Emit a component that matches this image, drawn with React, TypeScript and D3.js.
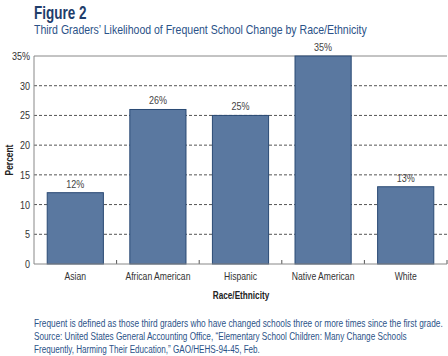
import React, { useLayoutEffect, useRef, useState } from "react";
import * as d3 from "d3";

const categories = ["Asian", "African American", "Hispanic", "Native American", "White"];
const values = [12, 26, 25, 35, 13];
const yTicks = [0, 5, 10, 15, 20, 25, 30, 35];
const footnotes = [
  "Frequent is defined as those third graders who have changed schools three or more times since the first grade.",
  "Source: United States General Accounting Office, \u201cElementary School Children: Many Change Schools",
  "Frequently, Harming Their Education,\u201d GAO/HEHS-94-45, Feb.",
];
const footnoteWidths = [409, 373, 226];

const W = 448;
const H = 356;
const FONT = "'Liberation Sans', Arial, Helvetica, sans-serif";
const SX = 0.82;

function T(props: { x: number; y: number; sx?: number; rotate?: number; children: React.ReactNode; [k: string]: any }) {
  const { x, y, sx = SX, rotate, children, ...rest } = props;
  const tr = `translate(${x},${y})${rotate ? ` rotate(${rotate})` : ""} scale(${sx},1)`;
  return (
    <text transform={tr} {...rest}>
      {children}
    </text>
  );
}

function FitText(props: { x: number; y: number; width: number; children: string; [k: string]: any }) {
  const { x, y, width, children, ...rest } = props;
  const ref = useRef<SVGTextElement>(null);
  const [sx, setSx] = useState(0.75);
  useLayoutEffect(() => {
    if (ref.current) {
      const w = ref.current.getComputedTextLength();
      if (w > 0) setSx(width / w);
    }
  }, [children, width]);
  return (
    <text ref={ref} transform={`translate(${x},${y}) scale(${sx},1)`} {...rest}>
      {children}
    </text>
  );
}

export default function App() {
  const left = 34;
  const right = 447;
  const top = 56;
  const bottom = 264;
  const x = d3.scaleBand<string>().domain(categories).range([left, right]).paddingInner(0.32).paddingOuter(0.16);
  const y = d3.scaleLinear().domain([0, 35]).range([bottom, top]);
  const step = x.step();

  return (
    <svg width={W} height={H} style={{ position: "absolute", left: 0, top: 0, background: "#fff" }} fontFamily={FONT}>
      <T x={34} y={19} sx={0.75} fontSize={18} fontWeight="bold" fill="#1f3d6b">Figure 2</T>
      <T x={34} y={34} sx={0.81} fontSize={13} fill="#2b5288">Third Graders’ Likelihood of Frequent School Change by Race/Ethnicity</T>

      {yTicks.filter((t) => t > 0 && t < 35).map((t) => (
        <line key={"g" + t} x1={left} x2={right} y1={y(t)} y2={y(t)} stroke="#555" strokeWidth={1} strokeDasharray="3,2" />
      ))}
      <line x1={left} x2={right} y1={y(35)} y2={y(35)} stroke="#888" strokeWidth={1} />

      {categories.map((c, i) => (
        <g key={c}>
          <rect x={x(c)} y={y(values[i])} width={x.bandwidth()} height={y(0) - y(values[i])} fill="#5a78a0" stroke="#2a4a74" strokeWidth={1} />
          <T x={(x(c) as number) + x.bandwidth() / 2} y={y(values[i]) - 5} textAnchor="middle" fontSize={11} fill="#444">{values[i]}%</T>
          <T x={(x(c) as number) + x.bandwidth() / 2} y={280} textAnchor="middle" fontSize={10.5} fill="#333">{c}</T>
        </g>
      ))}

      {categories.map((c, i) => (
        <line key={"t" + c} x1={left + step * (i + 1)} x2={left + step * (i + 1)} y1={bottom} y2={bottom - 4} stroke="#555" />
      ))}

      <line x1={left} x2={left} y1={top} y2={bottom} stroke="#888" />
      <line x1={left} x2={right} y1={bottom} y2={bottom} stroke="#888" />

      {yTicks.map((t) => (
        <T key={"y" + t} x={30} y={y(t) + 4} textAnchor="end" fontSize={11} fill="#333">{t === 35 ? "35%" : String(t)}</T>
      ))}

      <T x={13} y={(top + bottom) / 2} rotate={-90} sx={0.8} textAnchor="middle" fontSize={10.5} fontWeight="bold" fill="#222">Percent</T>
      <T x={241} y={299} sx={0.78} textAnchor="middle" fontSize={10.5} fontWeight="bold" fill="#222">Race/Ethnicity</T>

      {footnotes.map((f, i) => (
        <FitText key={i} x={34} y={327 + i * 13} width={footnoteWidths[i]} fontSize={11} fill="#2b5288">{f}</FitText>
      ))}
    </svg>
  );
}
